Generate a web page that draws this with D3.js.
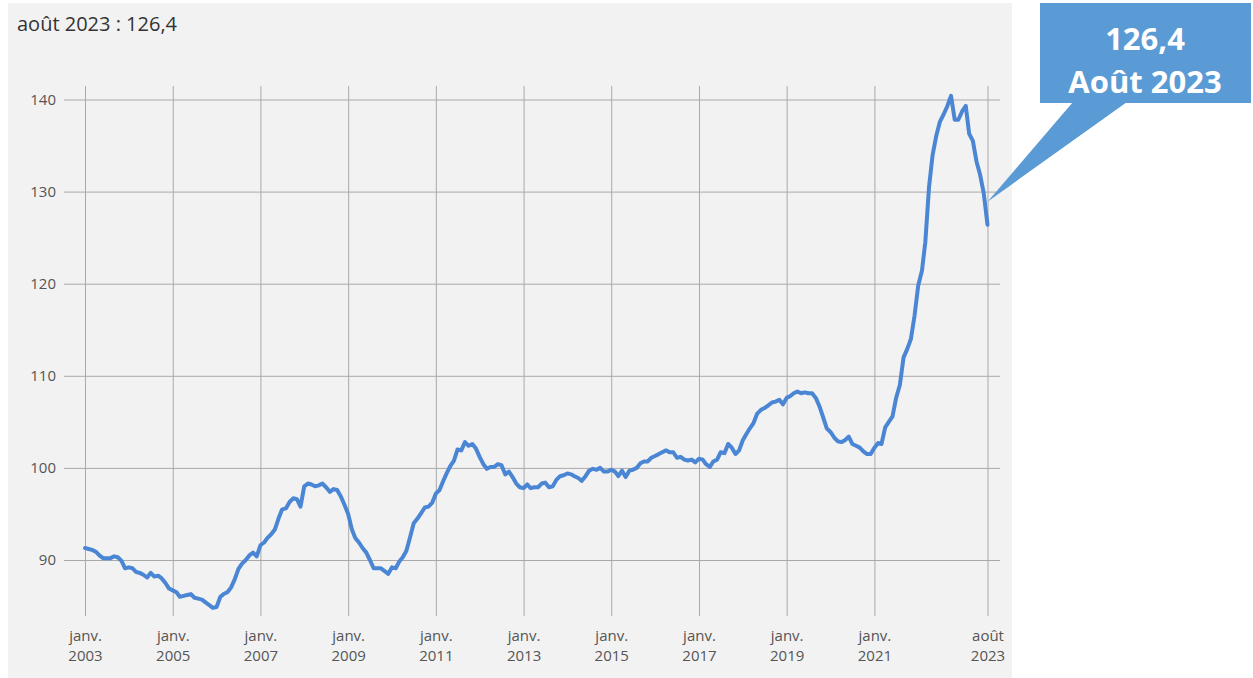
<!DOCTYPE html>
<html>
<head>
<meta charset="utf-8">
<script src="https://cdn.jsdelivr.net/npm/d3@7"></script>
<style>
  body { margin: 0; background: #fff; }
  svg { display: block; font-family: "Open Sans", sans-serif; }
</style>
</head>
<body>
<div id="wrapper"></div>
<script>
// monthly index, janv. 2003 -> août 2023
const startMonth = "2003-01"
const values = [
  91.3, 91.2, 91.1, 90.9, 90.5, 90.2, 90.2, 90.2, 90.4, 90.3, 89.9, 89.1,
  89.2, 89.1, 88.7, 88.6, 88.4, 88.1, 88.6, 88.2, 88.3, 88.0, 87.5, 86.9,
  86.7, 86.5, 86.0, 86.1, 86.2, 86.3, 85.9, 85.8, 85.7, 85.4, 85.1, 84.8,
  84.9, 86.0, 86.3, 86.5, 87.0, 87.9, 89.0, 89.6, 90.0, 90.5, 90.8, 90.4,
  91.6, 91.9, 92.4, 92.8, 93.3, 94.5, 95.5, 95.6, 96.3, 96.7, 96.6, 95.8,
  98.0, 98.3, 98.2, 98.0, 98.1, 98.3, 97.9, 97.4, 97.7, 97.6, 96.9, 96.0,
  95.0, 93.3, 92.4, 91.9, 91.3, 90.8, 90.0, 89.1, 89.1, 89.1, 88.8, 88.5,
  89.2, 89.1, 89.8, 90.3, 91.0, 92.5, 94.0, 94.5, 95.1, 95.7, 95.8, 96.2,
  97.2, 97.6, 98.5, 99.4, 100.2, 100.8, 102.0, 101.9, 102.8, 102.4, 102.6, 102.1,
  101.2, 100.4, 99.9, 100.1, 100.1, 100.4, 100.3, 99.3, 99.6, 99.0, 98.3, 97.9,
  97.8, 98.2, 97.8, 97.9, 97.9, 98.3, 98.4, 97.9, 98.0, 98.7, 99.1, 99.2,
  99.4, 99.3, 99.1, 98.9, 98.6, 99.1, 99.7, 99.9, 99.8, 100.0, 99.6, 99.6,
  99.8, 99.6, 99.1, 99.7, 99.0, 99.7, 99.8, 100.0, 100.5, 100.7, 100.7, 101.1,
  101.3, 101.5, 101.7, 101.9, 101.7, 101.7, 101.1, 101.2, 100.9, 100.8, 100.9, 100.6,
  101.0, 100.9, 100.4, 100.1, 100.7, 100.9, 101.7, 101.6, 102.6, 102.2, 101.5, 101.9,
  103.0, 103.7, 104.3, 104.9, 105.9, 106.3, 106.5, 106.8, 107.1, 107.2, 107.4, 106.9,
  107.6, 107.8, 108.1, 108.3, 108.1, 108.2, 108.1, 108.1, 107.6, 106.7, 105.5, 104.3,
  103.9, 103.3, 102.9, 102.8, 103.0, 103.4, 102.6, 102.4, 102.2, 101.8, 101.5, 101.5,
  102.2, 102.7, 102.6, 104.4, 105.0, 105.6, 107.6, 109.0, 112.0, 112.9, 114.0, 116.5,
  119.8, 121.4, 124.5, 130.5, 134.0, 136.1, 137.6, 138.4, 139.3, 140.4, 137.8, 137.8,
  138.7, 139.3, 136.3, 135.5, 133.3, 131.8, 129.8, 126.4
]
const yTicks = [90, 100, 110, 120, 130, 140]
const xTicks = ["2003-01", "2005-01", "2007-01", "2009-01", "2011-01", "2013-01",
  "2015-01", "2017-01", "2019-01", "2021-01", "2023-08"]
const xTickLabels = [["janv.", "2003"], ["janv.", "2005"], ["janv.", "2007"], ["janv.", "2009"],
  ["janv.", "2011"], ["janv.", "2013"], ["janv.", "2015"], ["janv.", "2017"],
  ["janv.", "2019"], ["janv.", "2021"], ["août", "2023"]]
const titleText = "août 2023 : 126,4"
const calloutLines = ["126,4", "Août 2023"]

const parseMonth = d3.timeParse("%Y-%m")
const start = parseMonth(startMonth)
const data = values.map((v, i) => ({ date: d3.timeMonth.offset(start, i), value: v }))

const width = 1253
const height = 678

const svg = d3.select("#wrapper")
  .append("svg")
    .attr("width", width)
    .attr("height", height)

// grey panel
svg.append("rect")
  .attr("x", 8).attr("y", 3)
  .attr("width", 1004).attr("height", 675)
  .attr("fill", "#f2f2f2")

const x = d3.scaleTime()
  .domain([start, data[data.length - 1].date])
  .range([85, 987.5])

const y = d3.scaleLinear()
  .domain([90, 140])
  .range([560, 99.5])

// horizontal grid + labels
svg.append("g")
  .attr("transform", "translate(1000,0)")
  .call(d3.axisLeft(y)
    .tickValues(yTicks)
    .tickSize(936)
    .tickPadding(8)
    .tickFormat(d3.format("d")))
  .call(g => g.select(".domain").remove())
  .call(g => g.selectAll(".tick line").attr("stroke", "#a9a9a9"))
  .call(g => g.selectAll(".tick text")
    .attr("fill", "#555")
    .attr("font-size", 15)
    .attr("font-family", "Open Sans, sans-serif"))

// vertical grid + labels
const xAxis = svg.append("g")
  .attr("transform", "translate(0,86)")
  .call(d3.axisBottom(x)
    .tickValues(xTicks.map(parseMonth))
    .tickSize(530)
    .tickFormat(""))
  .call(g => g.select(".domain").remove())
  .call(g => g.selectAll(".tick line").attr("stroke", "#a9a9a9"))

xAxis.selectAll(".tick text").remove()
xAxis.selectAll(".tick").each(function (d, i) {
  const t = d3.select(this).append("text")
    .attr("fill", "#555")
    .attr("font-size", 15)
    .attr("font-family", "Open Sans, sans-serif")
    .attr("text-anchor", "middle")
  t.append("tspan").attr("x", 0).attr("y", 555).text(xTickLabels[i][0])
  t.append("tspan").attr("x", 0).attr("y", 575).text(xTickLabels[i][1])
})

// series
const line = d3.line()
  .x(d => x(d.date))
  .y(d => y(d.value))

svg.append("path")
  .datum(data)
  .attr("fill", "none")
  .attr("stroke", "#4a86d4")
  .attr("stroke-width", 4)
  .attr("stroke-linejoin", "round")
  .attr("stroke-linecap", "round")
  .attr("d", line)

// title
svg.append("text")
  .attr("x", 17).attr("y", 31)
  .attr("fill", "#333")
  .attr("font-size", 20)
  .text(titleText)

// callout
const last = data[data.length - 1]
const tipX = x(last.date)
const tipY = y(128.9)
svg.append("polygon")
  .attr("points", `1073,102 1127,102 ${tipX},${tipY}`)
  .attr("fill", "#5b9bd5")
svg.append("rect")
  .attr("x", 1040).attr("y", 3)
  .attr("width", 211).attr("height", 100)
  .attr("fill", "#5b9bd5")
svg.append("g")
  .selectAll("text")
  .data(calloutLines)
  .join("text")
    .attr("x", 1145)
    .attr("y", (d, i) => 50 + i * 43)
    .attr("text-anchor", "middle")
    .attr("fill", "#fff")
    .attr("font-weight", "bold")
    .attr("font-size", 31)
    .text(d => d)
</script>
</body>
</html>
